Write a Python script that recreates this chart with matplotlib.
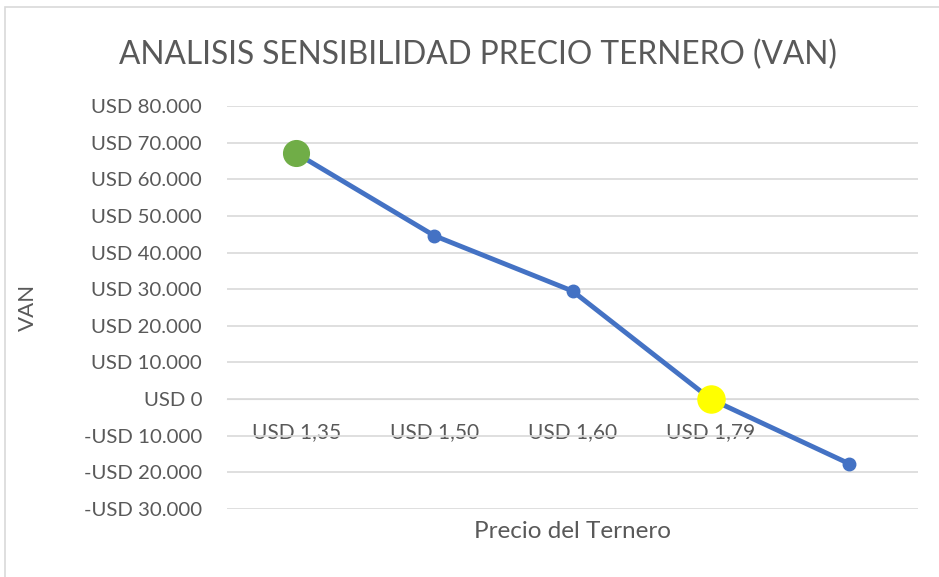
import matplotlib
matplotlib.use("Agg")
import matplotlib.pyplot as plt
from matplotlib.patches import Rectangle
from matplotlib.ticker import FuncFormatter

# data
precios = ["USD 1,35", "USD 1,50", "USD 1,60", "USD 1,79", ""]
van = [67100, 44600, 29500, 0, -17600]
y_ticks = [-30000, -20000, -10000, 0, 10000, 20000, 30000, 40000, 50000, 60000, 70000, 80000]

gris = "#595959"
azul = "#4472C4"

plt.rcParams['font.family'] = ['Lato', 'DejaVu Sans']

fig = plt.figure(figsize=(9.39, 5.77), dpi=100)
ax = fig.add_axes([227/939, 1 - 509/577, (918 - 227)/939, (509 - 106)/577])

# outer chart frame
fig.patches.append(Rectangle((5/939, -0.1), 1.2, 1 - 7/577 + 0.1, transform=fig.transFigure,
                             fill=False, edgecolor="#D9D9D9", linewidth=1.2))

x = list(range(len(van)))
ax.plot(x, van, color=azul, linewidth=3.5, marker="o", markersize=9, zorder=3)
ax.plot(x[0], van[0], marker="o", markersize=18.5, color="#70AD47", zorder=4)
ax.plot(x[3], van[3], marker="o", markersize=19.5, color="#FFFF00", zorder=4)

ax.set_xlim(-0.5, len(van) - 0.5)
ax.set_ylim(-30000, 80000)
ax.set_yticks(y_ticks)

def fmt(v, pos):
    v = int(round(v))
    if v == 0:
        return "USD 0"
    s = "{:,}".format(abs(v)).replace(",", ".")
    return ("-" if v < 0 else "") + "USD " + s

ax.yaxis.set_major_formatter(FuncFormatter(fmt))
ax.grid(axis="y", color="#D9D9D9", linewidth=1.2)
ax.set_axisbelow(True)

ax.set_xticks(x)
ax.set_xticklabels(precios)
ax.spines['bottom'].set_position(('data', 0))
ax.spines['bottom'].set_color("#D9D9D9")
for s in ['top', 'right', 'left']:
    ax.spines[s].set_visible(False)
ax.tick_params(axis="x", length=0, pad=16.5, labelsize=15, labelcolor=gris)
ax.tick_params(axis="y", length=0, pad=18, labelsize=14.7, labelcolor=gris)

ax.set_ylabel("VAN", fontsize=16, color=gris)
ax.yaxis.set_label_coords(-(227 - 38)/691, 0.5)
ax.text(0.5, -0.055, "Precio del Ternero", transform=ax.transAxes, ha="center", va="center",
        fontsize=17.5, color=gris)
fig.text(478/939, 1 - 55/577, "ANALISIS SENSIBILIDAD PRECIO TERNERO (VAN)", ha="center", va="center",
         fontsize=22.8, color=gris)

fig.savefig("out.png", dpi=100)
